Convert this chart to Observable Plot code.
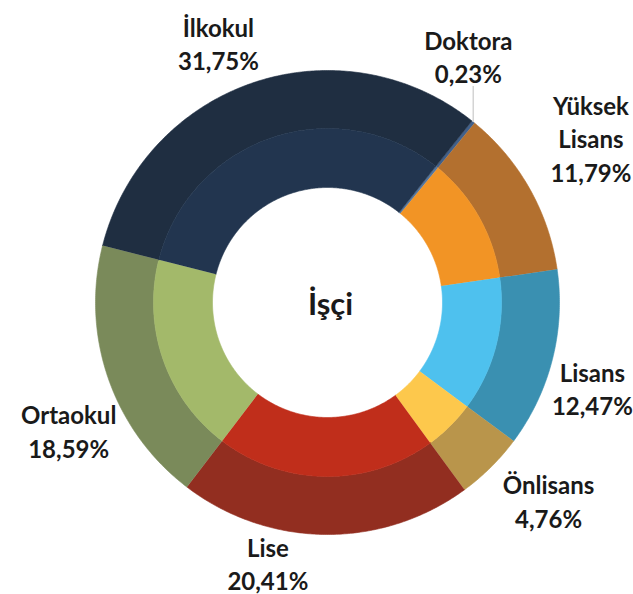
<!DOCTYPE html>
<html>
<head>
<meta charset="utf-8">
<script src="https://cdn.jsdelivr.net/npm/d3@7"></script>
<script src="https://cdn.jsdelivr.net/npm/@observablehq/plot@0.6"></script>
<style>
  html, body { margin: 0; padding: 0; background: #ffffff; }
  #chart { width: 633px; height: 594px; }
</style>
</head>
<body>
<div id="chart"></div>
<script>
// ---- data ----
const categories = ["Doktora", "Yüksek\nLisans", "Lisans", "Önlisans", "Lise", "Ortaokul", "İlkokul"];
const shares = [0.23, 11.79, 12.47, 4.76, 20.41, 18.59, 31.75];
const outerColors = ["#41608a", "#b3702f", "#3a90b1", "#b9954b", "#922e20", "#7a8a5a", "#1f2e41"];
const innerColors = ["#5577a0", "#f29425", "#4ec1ee", "#fdc84c", "#c02e1b", "#a3b96a", "#22354f"];
const centerTitle = "İşçi";

// ---- layout ----
const W = 633, H = 594;
const cx = 327, cy = 302, R = 232;      // pixel centre and outer radius
const startAngle = 38.5;                // degrees clockwise from north
const rHole = 115 / R, rMid = 174 / R, rOut = 1;
const labelRadius = 1.2;
const labelNudge = [[-34, -30], [21, -28], [-5, 17], [25, 0], [-57, -18], [4, 36], [-20, 4]];

const total = d3.sum(shares);
const rad = (deg) => deg * Math.PI / 180;
let acc = startAngle;
const slices = shares.map((v, i) => {
  const a0 = acc, a1 = acc + v / total * 360;
  acc = a1;
  return {i, a0, a1, mid: (a0 + a1) / 2};
});

function ring(a0, a1, r0, r1) {
  const n = Math.max(2, Math.ceil((a1 - a0) / 0.5));
  const pts = [];
  for (let k = 0; k <= n; k++) {
    const a = rad(a0 + (a1 - a0) * k / n);
    pts.push([r1 * Math.sin(a), r1 * Math.cos(a)]);
  }
  for (let k = n; k >= 0; k--) {
    const a = rad(a0 + (a1 - a0) * k / n);
    pts.push([r0 * Math.sin(a), r0 * Math.cos(a)]);
  }
  return pts;
}

const wedgePoints = [];
slices.forEach((s) => {
  ring(s.a0, s.a1, rMid, rOut).forEach(([x, y]) =>
    wedgePoints.push({key: "o" + s.i, x, y, color: outerColors[s.i]}));
  ring(s.a0, s.a1, rHole, rMid).forEach(([x, y]) =>
    wedgePoints.push({key: "i" + s.i, x, y, color: innerColors[s.i]}));
});

const fmt = (v) => v.toFixed(2).replace(".", ",") + "%";
const labels = slices.map((s) => ({
  text: categories[s.i] + "\n" + fmt(shares[s.i]),
  x: labelRadius * Math.sin(rad(s.mid)) + labelNudge[s.i][0] / R,
  y: labelRadius * Math.cos(rad(s.mid)) - labelNudge[s.i][1] / R
}));

// leader line for the tiny first slice
const d0 = slices[0];
const leader = [{
  x1: Math.sin(rad(d0.mid)), y1: Math.cos(rad(d0.mid)),
  x2: Math.sin(rad(d0.mid)), y2: labels[0].y - 30 / R
}];

const chart = Plot.plot({
  width: W,
  height: H,
  margin: 0,
  x: {domain: [-cx / R, (W - cx) / R], axis: null},
  y: {domain: [(cy - H) / R, cy / R], axis: null},
  color: {type: "identity"},
  style: {fontFamily: "Lato, 'Open Sans', sans-serif", background: "#ffffff"},
  marks: [
    Plot.line(wedgePoints, {x: "x", y: "y", z: "key", fill: "color", stroke: "color", strokeWidth: 0.6, curve: "linear"}),
    Plot.link(leader, {x1: "x1", y1: "y1", x2: "x2", y2: "y2", stroke: "#d4d4d4", strokeWidth: 1.5}),
    Plot.text(labels, {x: "x", y: "y", text: "text", fontSize: 24, fontWeight: "bold", fill: "#1a1a1a", lineHeight: 1.4}),
    Plot.text([centerTitle], {x: 0, y: 0, text: (d) => d, fontSize: 31, fontWeight: "bold", fill: "#1a1a1a", dx: 3, dy: 3})
  ]
});
document.getElementById("chart").appendChild(chart);
</script>
</body>
</html>
